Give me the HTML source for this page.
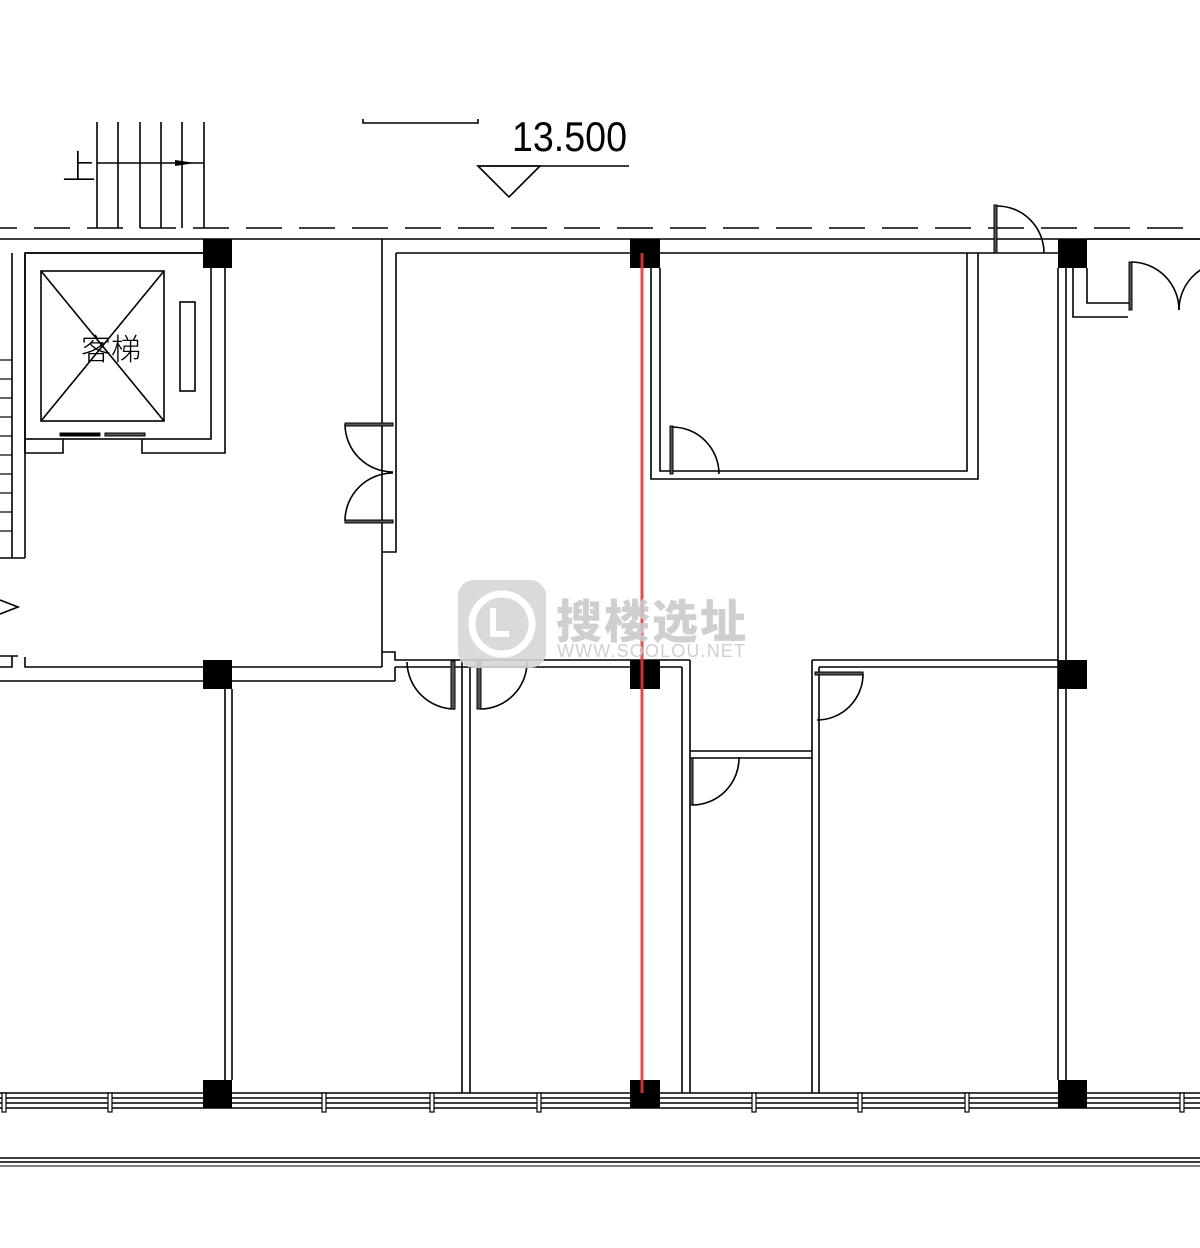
<!DOCTYPE html>
<html><head><meta charset="utf-8"><style>
html,body{margin:0;padding:0;background:#fff;width:1200px;height:1248px;overflow:hidden}
svg{display:block}
</style></head><body>
<svg width="1200" height="1248" viewBox="0 0 1200 1248" xmlns="http://www.w3.org/2000/svg">
<g stroke="#000" stroke-width="1.6" fill="none">
<line x1="0" y1="228" x2="1200" y2="228" stroke-dasharray="36 17" stroke-dashoffset="19"/>
<g>
<line x1="97" y1="122" x2="97" y2="228"/><line x1="118" y1="122" x2="118" y2="228"/>
<line x1="140" y1="122" x2="140" y2="228"/><line x1="161" y1="122" x2="161" y2="228"/>
<line x1="182" y1="122" x2="182" y2="228"/><line x1="204" y1="122" x2="204" y2="228"/>
<line x1="97" y1="163" x2="204" y2="163"/>
</g>
<polyline points="363,119 363,123 478,123 478,119"/>
<line x1="478" y1="166" x2="629" y2="166"/>
<polygon points="478,166 540,166 509,197"/>
<line x1="0" y1="239" x2="1200" y2="239"/>
<line x1="25" y1="253" x2="203" y2="253"/>
<line x1="396" y1="253" x2="630" y2="253"/>
<line x1="660" y1="253" x2="1058" y2="253"/>
<line x1="1087" y1="239" x2="1200" y2="239"/>
<line x1="12" y1="253" x2="12" y2="558"/>
<line x1="25" y1="253" x2="25" y2="558"/>
<line x1="0" y1="558" x2="25" y2="558"/>
<g stroke-width="1.2">
<line x1="0" y1="360" x2="12" y2="360"/><line x1="0" y1="379" x2="12" y2="379"/>
<line x1="0" y1="398" x2="12" y2="398"/><line x1="0" y1="417" x2="12" y2="417"/>
<line x1="0" y1="436" x2="12" y2="436"/><line x1="0" y1="455" x2="12" y2="455"/>
<line x1="0" y1="474" x2="12" y2="474"/><line x1="0" y1="493" x2="12" y2="493"/>
<line x1="0" y1="512" x2="12" y2="512"/><line x1="0" y1="531" x2="12" y2="531"/>
</g>
<polyline points="0,600 18,607 0,614"/>
<polyline points="0,656 18,656"/>
<polyline points="12,656 12,667 0,667"/>
<polyline points="25,657 25,667 203,667"/>
<line x1="0" y1="681" x2="203" y2="681"/>
<rect x="25" y="253" width="186" height="186"/>
<polyline points="225,268 225,453 142,453 142,439"/>
<polyline points="25,439 25,453 63,453 63,439"/>
<rect x="41" y="271" width="123" height="150"/>
<line x1="41" y1="271" x2="164" y2="421"/><line x1="164" y1="271" x2="41" y2="421"/>
<rect x="180" y="302" width="15" height="89"/>
<line x1="382" y1="239" x2="382" y2="652"/>
<polyline points="396,253 396,552 382,552"/>
<polyline points="382,652 395,652 395,660 690,660"/>
<line x1="232" y1="667" x2="382" y2="667"/>
<line x1="232" y1="681" x2="395" y2="681"/>
<line x1="395" y1="667" x2="395" y2="681"/>
<line x1="382" y1="652" x2="382" y2="667"/>
<line x1="395" y1="667" x2="630" y2="667"/>
<path d="M345,424 A48,48 0 0 0 393,472"/>
<path d="M345,521 A48,48 0 0 1 393,473"/>
<polyline points="651,268 651,479 978,479 978,253"/>
<polyline points="660,268 660,471 967,471 967,253"/>
<path d="M672,427 A47,47 0 0 1 719,474"/>
<path d="M997,206 A47,47 0 0 1 1044,253"/>
<line x1="1058" y1="268" x2="1058" y2="1080"/>
<line x1="1066" y1="268" x2="1066" y2="1080"/>
<polyline points="1073,268 1073,317 1128,317"/>
<polyline points="1087,268 1087,303 1131,303"/>
<path d="M1131,262 A48,48 0 0 1 1179,310"/>
<path d="M1225,262 A48,48 0 0 0 1179,310"/>
<line x1="225" y1="689" x2="225" y2="1080"/><line x1="232" y1="689" x2="232" y2="1080"/>
<line x1="462" y1="660" x2="462" y2="1093"/><line x1="470" y1="667" x2="470" y2="1093"/>
<line x1="660" y1="667" x2="682" y2="667"/>
<line x1="682" y1="667" x2="682" y2="1093"/><line x1="690" y1="660" x2="690" y2="1093"/>
<line x1="690" y1="751" x2="812" y2="751"/><line x1="690" y1="758" x2="812" y2="758"/>
<line x1="812" y1="660" x2="812" y2="1093"/><line x1="819" y1="667" x2="819" y2="1093"/>
<line x1="812" y1="660" x2="1058" y2="660"/><line x1="819" y1="667" x2="1058" y2="667"/>
<path d="M407,662 A48,48 0 0 0 455,709"/>
<path d="M480,709 A47,47 0 0 0 527,662"/>
<path d="M692,805 A47,47 0 0 0 739,757"/>
<path d="M863,673 A46,46 0 0 1 817,720"/>
<line x1="0" y1="1093" x2="1200" y2="1093"/>
<line x1="0" y1="1098" x2="1200" y2="1098"/>
<line x1="0" y1="1103" x2="1200" y2="1103"/>
<line x1="0" y1="1108" x2="1200" y2="1108"/>
<line x1="0" y1="1158" x2="1200" y2="1158"/>
<line x1="0" y1="1162" x2="1200" y2="1162"/>
<line x1="0" y1="1166" x2="1200" y2="1166" stroke-width="1"/>
</g>
<g fill="#fff" stroke="#000" stroke-width="1.2">
<rect x="2" y="1093" width="4" height="19"/><rect x="108" y="1093" width="4" height="19"/>
<rect x="322" y="1093" width="4" height="19"/><rect x="430" y="1093" width="4" height="19"/>
<rect x="537" y="1093" width="4" height="19"/><rect x="752" y="1093" width="4" height="19"/>
<rect x="858" y="1093" width="4" height="19"/><rect x="965" y="1093" width="4" height="19"/>
<rect x="1180" y="1093" width="4" height="19"/>
</g>
<g fill="#555" stroke="#000" stroke-width="1">
<rect x="60" y="433" width="40" height="3" fill="#000"/>
<rect x="105" y="433" width="40" height="3"/>
<rect x="345" y="423" width="48" height="3"/>
<rect x="345" y="520" width="48" height="3"/>
<rect x="670" y="426" width="3" height="48"/>
<rect x="994" y="205" width="3" height="48"/>
<rect x="1129" y="262" width="3" height="48"/>
<rect x="451" y="661" width="4" height="48"/>
<rect x="477" y="661" width="4" height="48"/>
<rect x="690" y="758" width="3" height="47"/>
<rect x="815" y="672" width="48" height="3"/>
</g>
<polygon points="175,160 195,163 175,166" fill="#000"/>
<g fill="#000">
<rect x="203" y="239" width="29" height="29"/><rect x="630" y="239" width="30" height="29"/><rect x="1058" y="239" width="29" height="29"/>
<rect x="203" y="660" width="29" height="29"/><rect x="630" y="660" width="30" height="29"/><rect x="1058" y="660" width="29" height="29"/>
<rect x="203" y="1080" width="29" height="28"/><rect x="630" y="1080" width="30" height="28"/><rect x="1058" y="1080" width="29" height="28"/>
</g>
<line x1="642" y1="253" x2="642" y2="1093" stroke="#e03a3a" stroke-width="3" opacity="0.9"/>
<g opacity="0.9">
<rect x="458" y="580" width="88" height="88" rx="16" fill="#d6d6d6"/>
<circle cx="502" cy="624" r="30" fill="none" stroke="#fff" stroke-width="7"/>
<path d="M493,608 v26 h16" fill="none" stroke="#fff" stroke-width="6"/>
<text x="556" y="638" font-family="'Noto Sans CJK SC',sans-serif" font-weight="900" font-size="46" fill="#cacaca" textLength="190">搜楼选址</text>
<text x="557" y="657" font-family="'Liberation Sans',sans-serif" font-size="18" fill="#cacaca" textLength="188">WWW.SOOLOU.NET</text>
</g>
<text x="62" y="179" font-family="'Noto Sans CJK SC',sans-serif" font-weight="300" font-size="34" fill="#000">上</text>
<text x="81" y="360" font-family="'Noto Sans CJK SC',sans-serif" font-weight="300" font-size="30" fill="#000">客梯</text>
<text x="512" y="0" transform="translate(0,151) scale(1,1.3)" font-family="'Liberation Sans',sans-serif" font-size="32" fill="#000" textLength="115" lengthAdjust="spacingAndGlyphs">13.500</text>
</svg>
</body></html>
